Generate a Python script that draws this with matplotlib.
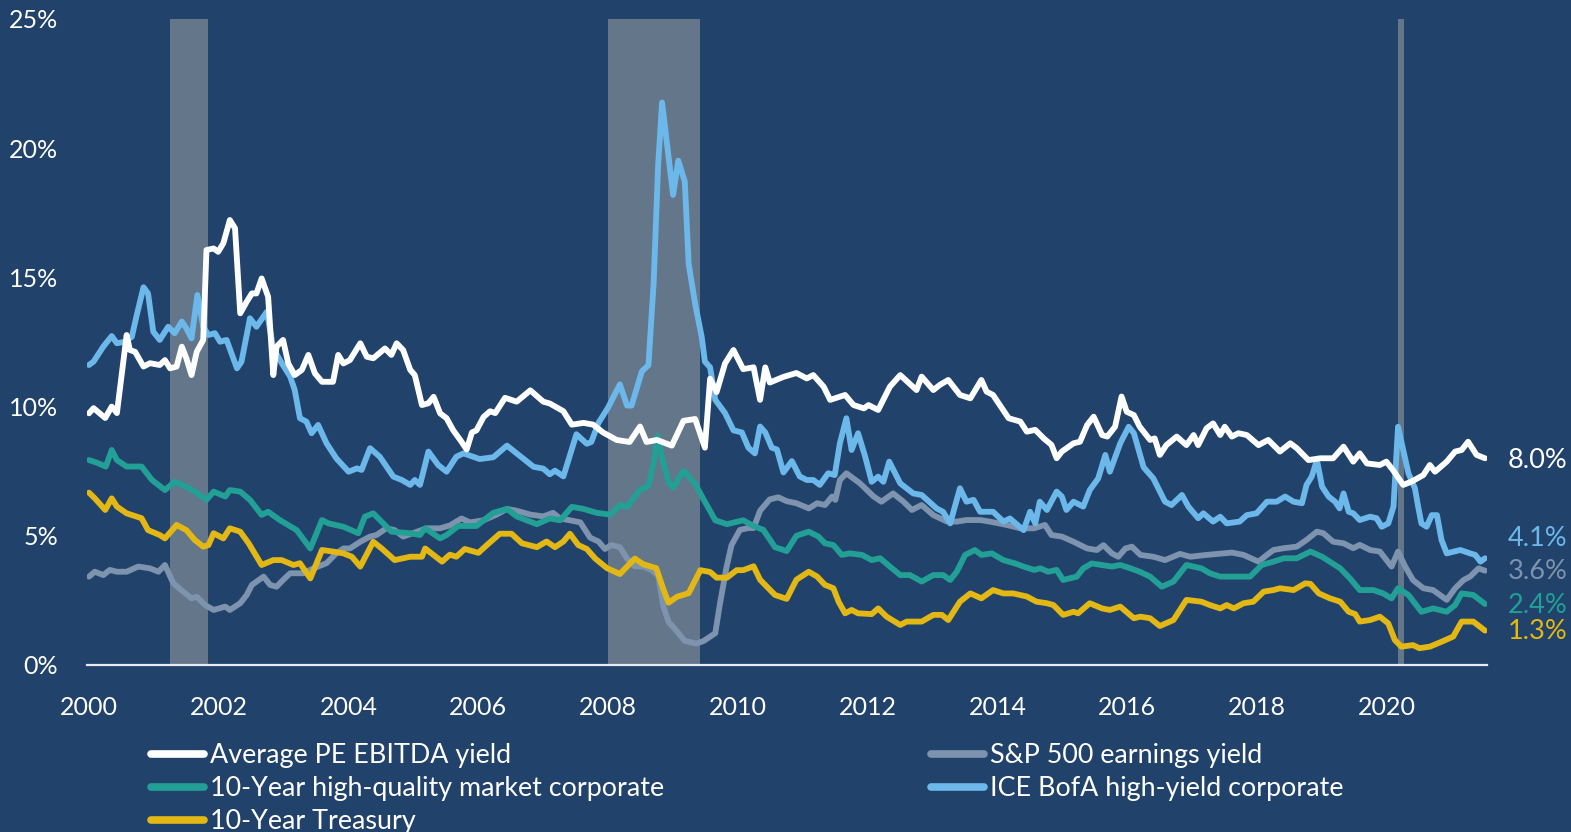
import matplotlib
matplotlib.use("Agg")
import matplotlib.pyplot as plt
from matplotlib.lines import Line2D

plt.rcParams['font.family'] = ['Lato', 'DejaVu Sans']

# ---------------- data ----------------
pe_x = [2000.0, 2000.07, 2000.25, 2000.35, 2000.43, 2000.58, 2000.63, 2000.71, 2000.84, 2000.94,
        2001.09, 2001.17, 2001.25, 2001.35, 2001.43, 2001.5, 2001.58, 2001.66, 2001.76, 2001.81,
        2001.92, 2001.99, 2002.07, 2002.17, 2002.25, 2002.33, 2002.43, 2002.51, 2002.58, 2002.66,
        2002.76, 2002.84, 2002.89, 2002.99, 2003.07, 2003.17, 2003.28, 2003.38, 2003.48, 2003.59,
        2003.76, 2003.84, 2003.92, 2004.02, 2004.18, 2004.28, 2004.38, 2004.56, 2004.66, 2004.74,
        2004.84, 2004.95, 2005.02, 2005.13, 2005.23, 2005.31, 2005.41, 2005.51, 2005.61, 2005.72,
        2005.82, 2005.9, 2005.97, 2006.08, 2006.18, 2006.26, 2006.41, 2006.59, 2006.8, 2007.0,
        2007.1, 2007.31, 2007.44, 2007.62, 2007.77, 2007.92, 2008.13, 2008.33, 2008.49, 2008.59,
        2008.75, 2008.98, 2009.16, 2009.34, 2009.49, 2009.57, 2009.67, 2009.8, 2009.93, 2010.08,
        2010.24, 2010.34, 2010.42, 2010.49, 2010.7, 2010.9, 2011.06, 2011.16, 2011.32, 2011.42,
        2011.65, 2011.78, 2011.94, 2012.01, 2012.16, 2012.34, 2012.5, 2012.75, 2012.83, 2013.01,
        2013.11, 2013.24, 2013.42, 2013.58, 2013.75, 2013.83, 2013.93, 2014.17, 2014.35, 2014.45,
        2014.58, 2014.71, 2014.83, 2014.91, 2014.99, 2015.17, 2015.27, 2015.38, 2015.48, 2015.61,
        2015.69, 2015.81, 2015.91, 2015.99, 2016.1, 2016.19, 2016.35, 2016.42, 2016.5, 2016.6,
        2016.76, 2016.91, 2017.02, 2017.09, 2017.22, 2017.32, 2017.43, 2017.5, 2017.61, 2017.71,
        2017.84, 2018.02, 2018.17, 2018.35, 2018.51, 2018.61, 2018.79, 2018.97, 2019.17, 2019.33,
        2019.48, 2019.58, 2019.69, 2019.89, 2019.99, 2020.09, 2020.25, 2020.38, 2020.56, 2020.66,
        2020.74, 2020.92, 2021.05, 2021.15, 2021.25, 2021.38, 2021.51]
pe_y = [9.74, 9.94, 9.56, 10.0, 9.75, 12.77, 12.19, 12.12, 11.55, 11.68,
        11.61, 11.8, 11.48, 11.55, 12.32, 11.87, 11.22, 12.12, 12.58, 16.06,
        16.12, 15.99, 16.32, 17.22, 16.9, 13.61, 14.06, 14.38, 14.38, 14.96,
        14.25, 11.22, 12.32, 12.58, 11.67, 11.22, 11.42, 12.0, 11.29, 10.96,
        10.96, 12.0, 11.67, 11.8, 12.45, 11.93, 11.87, 12.25, 12.0, 12.45,
        12.19, 11.42, 11.22, 10.06, 10.13, 10.38, 9.74, 9.55, 9.09, 8.71,
        8.34, 9.0, 9.08, 9.6, 9.82, 9.75, 10.34, 10.19, 10.63, 10.19,
        10.12, 9.82, 9.3, 9.37, 9.3, 9.0, 8.71, 8.63, 9.23, 8.63,
        8.71, 8.49, 9.45, 9.52, 8.41, 11.08, 10.56, 11.67, 12.19, 11.45,
        11.52, 10.26, 11.52, 10.93, 11.15, 11.3, 11.09, 11.22, 10.77, 10.26,
        10.45, 10.06, 9.93, 10.06, 9.87, 10.77, 11.22, 10.64, 11.16, 10.64,
        10.84, 11.03, 10.45, 10.32, 11.03, 10.58, 10.45, 9.55, 9.42, 9.03,
        9.1, 8.77, 8.52, 8.0, 8.26, 8.58, 8.64, 9.29, 9.61, 8.9,
        8.84, 9.22, 10.39, 9.8, 9.67, 9.22, 8.71, 8.77, 8.13, 8.51,
        8.84, 8.51, 8.9, 8.51, 9.16, 9.35, 8.9, 9.22, 8.84, 8.97,
        8.9, 8.51, 8.71, 8.26, 8.58, 8.39, 7.93, 8.0, 8.0, 8.45,
        7.87, 8.19, 7.8, 7.74, 7.87, 7.55, 6.97, 7.1, 7.35, 7.74,
        7.48, 7.87, 8.26, 8.32, 8.64, 8.13, 8.0]

sp_x = [2000.0, 2000.09, 2000.22, 2000.32, 2000.43, 2000.58, 2000.76, 2000.94, 2001.07, 2001.17,
        2001.3, 2001.45, 2001.58, 2001.66, 2001.79, 2001.92, 2002.1, 2002.17, 2002.33, 2002.43,
        2002.51, 2002.69, 2002.79, 2002.89, 2002.99, 2003.1, 2003.3, 2003.46, 2003.66, 2003.81,
        2003.92, 2004.02, 2004.18, 2004.33, 2004.43, 2004.58, 2004.71, 2004.84, 2004.99, 2005.2,
        2005.41, 2005.56, 2005.74, 2005.87, 2006.08, 2006.28, 2006.44, 2006.59, 2006.8, 2007.0,
        2007.15, 2007.26, 2007.41, 2007.57, 2007.72, 2007.85, 2007.95, 2008.05, 2008.18, 2008.29,
        2008.41, 2008.54, 2008.67, 2008.77, 2008.85, 2008.93, 2009.06, 2009.18, 2009.36, 2009.47,
        2009.65, 2009.72, 2009.82, 2009.9, 2010.03, 2010.16, 2010.24, 2010.34, 2010.49, 2010.62,
        2010.75, 2010.9, 2011.09, 2011.22, 2011.34, 2011.45, 2011.5, 2011.57, 2011.67, 2011.88,
        2012.09, 2012.21, 2012.39, 2012.55, 2012.68, 2012.83, 2013.01, 2013.22, 2013.37, 2013.52,
        2013.73, 2013.88, 2014.14, 2014.35, 2014.56, 2014.73, 2014.83, 2014.99, 2015.17, 2015.38,
        2015.53, 2015.63, 2015.76, 2015.86, 2015.97, 2016.07, 2016.2, 2016.4, 2016.58, 2016.81,
        2016.97, 2017.22, 2017.48, 2017.61, 2017.79, 2018.02, 2018.15, 2018.25, 2018.41, 2018.61,
        2018.76, 2018.92, 2019.02, 2019.17, 2019.33, 2019.48, 2019.58, 2019.74, 2019.89, 2020.07,
        2020.17, 2020.28, 2020.4, 2020.56, 2020.71, 2020.92, 2021.05, 2021.18, 2021.28, 2021.41,
        2021.51]
sp_y = [3.42, 3.61, 3.48, 3.68, 3.61, 3.61, 3.81, 3.74, 3.61, 3.87,
        3.16, 2.84, 2.58, 2.64, 2.32, 2.13, 2.26, 2.13, 2.39, 2.71,
        3.1, 3.42, 3.1, 3.03, 3.29, 3.55, 3.55, 3.74, 3.94, 4.32,
        4.51, 4.51, 4.77, 4.97, 5.03, 5.29, 5.22, 4.97, 5.1, 5.29,
        5.29, 5.4, 5.67, 5.52, 5.6, 5.82, 6.04, 5.97, 5.82, 5.75,
        5.89, 5.67, 5.6, 5.52, 4.93, 4.78, 4.49, 4.64, 4.56, 4.12,
        3.82, 3.82, 3.67, 3.45, 2.27, 1.67, 1.3, 0.93, 0.83, 0.93,
        1.23, 2.34, 3.75, 4.64, 5.23, 5.3, 5.3, 5.97, 6.41, 6.49,
        6.34, 6.26, 6.06, 6.26, 6.19, 6.52, 6.39, 7.16, 7.42, 7.03,
        6.52, 6.32, 6.64, 6.32, 6.0, 6.19, 5.8, 5.55, 5.55, 5.61,
        5.61, 5.55, 5.42, 5.29, 5.29, 5.42, 5.03, 4.97, 4.77, 4.51,
        4.45, 4.64, 4.32, 4.19, 4.51, 4.58, 4.26, 4.19, 4.06, 4.3,
        4.19, 4.26, 4.32, 4.35, 4.26, 4.0, 4.26, 4.45, 4.52, 4.58,
        4.84, 5.16, 5.1, 4.77, 4.71, 4.52, 4.65, 4.45, 4.39, 3.81,
        4.39, 3.81, 3.29, 2.97, 2.9, 2.52, 2.97, 3.29, 3.42, 3.74,
        3.65]

hqm_x = [2000.0, 2000.12, 2000.26, 2000.35, 2000.43, 2000.58, 2000.81, 2000.97, 2001.17, 2001.32,
         2001.5, 2001.63, 2001.81, 2001.92, 2002.1, 2002.17, 2002.33, 2002.48, 2002.66, 2002.76,
         2002.94, 2003.2, 2003.41, 2003.59, 2003.69, 2003.92, 2004.15, 2004.25, 2004.38, 2004.66,
         2004.95, 2005.1, 2005.18, 2005.41, 2005.51, 2005.69, 2005.97, 2006.23, 2006.44, 2006.59,
         2006.9, 2007.1, 2007.26, 2007.44, 2007.62, 2007.82, 2008.03, 2008.18, 2008.29, 2008.49,
         2008.62, 2008.7, 2008.76, 2008.85, 2008.93, 2009.0, 2009.16, 2009.34, 2009.47, 2009.65,
         2009.83, 2010.08, 2010.24, 2010.39, 2010.57, 2010.75, 2010.9, 2011.09, 2011.24, 2011.34,
         2011.47, 2011.6, 2011.72, 2011.91, 2012.06, 2012.19, 2012.34, 2012.5, 2012.65, 2012.83,
         2013.01, 2013.16, 2013.27, 2013.37, 2013.5, 2013.65, 2013.75, 2013.91, 2014.09, 2014.27,
         2014.4, 2014.56, 2014.66, 2014.78, 2014.91, 2015.01, 2015.22, 2015.32, 2015.45, 2015.61,
         2015.76, 2015.89, 2016.05, 2016.19, 2016.35, 2016.53, 2016.71, 2016.91, 2017.14, 2017.27,
         2017.43, 2017.64, 2017.89, 2018.07, 2018.25, 2018.41, 2018.61, 2018.82, 2019.0, 2019.28,
         2019.43, 2019.58, 2019.79, 2019.94, 2020.07, 2020.17, 2020.33, 2020.53, 2020.71, 2020.92,
         2021.05, 2021.15, 2021.33, 2021.51]
hqm_y = [7.93, 7.83, 7.68, 8.32, 7.93, 7.68, 7.68, 7.16, 6.77, 7.09,
         6.9, 6.71, 6.39, 6.71, 6.52, 6.77, 6.71, 6.39, 5.81, 5.93,
         5.61, 5.22, 4.51, 5.61, 5.48, 5.35, 5.1, 5.74, 5.87, 5.16,
         5.1, 5.03, 5.29, 4.9, 5.03, 5.38, 5.38, 5.89, 6.04, 5.75,
         5.45, 5.67, 5.6, 6.12, 6.04, 5.89, 5.82, 6.19, 6.12, 6.78,
         6.93, 7.82, 8.86, 7.82, 7.08, 6.86, 7.52, 7.01, 6.41, 5.6,
         5.45, 5.6, 5.38, 5.23, 4.56, 4.41, 5.0, 5.16, 4.97, 4.71,
         4.64, 4.26, 4.32, 4.26, 4.06, 4.13, 3.81, 3.48, 3.48, 3.23,
         3.48, 3.48, 3.29, 3.61, 4.26, 4.45, 4.26, 4.32, 4.06, 3.93,
         3.81, 3.68, 3.74, 3.61, 3.68, 3.29, 3.42, 3.74, 3.93, 3.87,
         3.81, 3.87, 3.74, 3.61, 3.42, 3.03, 3.23, 3.87, 3.74, 3.55,
         3.42, 3.42, 3.42, 3.87, 4.0, 4.13, 4.13, 4.39, 4.19, 3.74,
         3.35, 2.9, 2.9, 2.77, 2.58, 2.97, 2.71, 2.06, 2.19, 2.06,
         2.32, 2.77, 2.71, 2.36]

hy_x = [2000.0, 2000.07, 2000.22, 2000.35, 2000.43, 2000.55, 2000.66, 2000.73, 2000.84, 2000.91,
        2000.99, 2001.09, 2001.22, 2001.32, 2001.43, 2001.5, 2001.58, 2001.67, 2001.76, 2001.84,
        2001.94, 2002.02, 2002.12, 2002.28, 2002.35, 2002.48, 2002.58, 2002.74, 2002.84, 2002.97,
        2003.1, 2003.17, 2003.25, 2003.35, 2003.43, 2003.53, 2003.66, 2003.81, 2004.0, 2004.13,
        2004.2, 2004.33, 2004.48, 2004.69, 2004.82, 2004.95, 2005.02, 2005.1, 2005.23, 2005.38,
        2005.51, 2005.66, 2005.77, 2006.02, 2006.23, 2006.44, 2006.59, 2006.85, 2007.0, 2007.1,
        2007.18, 2007.31, 2007.41, 2007.51, 2007.67, 2007.74, 2007.85, 2008.0, 2008.18, 2008.29,
        2008.36, 2008.52, 2008.62, 2008.7, 2008.77, 2008.83, 2008.93, 2009.0, 2009.08, 2009.18,
        2009.24, 2009.34, 2009.44, 2009.49, 2009.57, 2009.65, 2009.8, 2009.93, 2010.06, 2010.16,
        2010.26, 2010.34, 2010.42, 2010.52, 2010.6, 2010.7, 2010.83, 2010.95, 2011.06, 2011.16,
        2011.26, 2011.39, 2011.49, 2011.57, 2011.67, 2011.75, 2011.85, 2011.96, 2012.06, 2012.16,
        2012.24, 2012.33, 2012.5, 2012.7, 2012.83, 2013.06, 2013.16, 2013.27, 2013.42, 2013.52,
        2013.63, 2013.73, 2013.93, 2014.09, 2014.19, 2014.4, 2014.5, 2014.58, 2014.65, 2014.76,
        2014.91, 2014.99, 2015.06, 2015.17, 2015.32, 2015.42, 2015.55, 2015.66, 2015.73, 2015.89,
        2016.02, 2016.1, 2016.25, 2016.4, 2016.58, 2016.68, 2016.84, 2016.94, 2017.09, 2017.17,
        2017.32, 2017.43, 2017.53, 2017.73, 2017.84, 2017.99, 2018.15, 2018.3, 2018.43, 2018.56,
        2018.69, 2018.76, 2018.84, 2018.92, 2019.0, 2019.1, 2019.2, 2019.27, 2019.33, 2019.41,
        2019.48, 2019.58, 2019.74, 2019.84, 2019.92, 2020.02, 2020.1, 2020.17, 2020.25, 2020.33,
        2020.43, 2020.48, 2020.53, 2020.61, 2020.69, 2020.77, 2020.84, 2020.92, 2021.13, 2021.28,
        2021.36, 2021.44, 2021.51]
hy_y = [11.61, 11.74, 12.32, 12.73, 12.45, 12.51, 12.7, 13.48, 14.62, 14.38,
        12.9, 12.58, 13.09, 12.84, 13.29, 13.03, 12.64, 14.32, 13.09, 12.77,
        12.84, 12.51, 12.58, 11.48, 11.74, 13.42, 13.09, 13.67, 12.25, 11.68,
        11.16, 10.64, 9.55, 9.42, 8.97, 9.29, 8.58, 8.0, 7.48, 7.61,
        7.55, 8.39, 8.06, 7.29, 7.16, 6.97, 7.16, 6.97, 8.26, 7.74,
        7.48, 8.06, 8.19, 7.97, 8.04, 8.49, 8.19, 7.67, 7.6, 7.38,
        7.52, 7.3, 8.12, 8.93, 8.56, 8.63, 9.37, 9.97, 10.86, 10.04,
        10.04, 11.37, 11.6, 14.78, 19.37, 21.77, 19.67, 18.19, 19.52, 18.71,
        15.52, 13.97, 12.71, 11.74, 11.52, 10.26, 9.75, 9.08, 9.0, 8.41,
        8.19, 9.23, 9.0, 8.41, 8.34, 7.45, 7.89, 7.3, 7.16, 7.16,
        6.97, 7.42, 7.35, 8.58, 9.55, 8.32, 8.97, 8.06, 7.09, 7.29,
        7.09, 7.87, 7.03, 6.64, 6.58, 6.06, 5.93, 5.48, 6.84, 6.32,
        6.39, 5.93, 5.93, 5.55, 5.67, 5.22, 5.93, 5.48, 6.32, 6.0,
        6.71, 6.52, 6.0, 6.32, 6.13, 6.77, 7.22, 8.13, 7.48, 8.58,
        9.22, 8.97, 7.65, 7.22, 6.32, 6.19, 6.58, 6.13, 5.68, 5.87,
        5.55, 5.74, 5.48, 5.55, 5.8, 5.87, 6.32, 6.32, 6.52, 6.32,
        6.26, 6.97, 7.29, 7.93, 6.9, 6.52, 6.32, 6.06, 6.64, 5.93,
        5.87, 5.61, 5.74, 5.68, 5.35, 5.48, 6.13, 9.22, 8.32, 7.42,
        6.84, 6.13, 5.48, 5.35, 5.8, 5.8, 4.84, 4.32, 4.45, 4.32,
        4.26, 4.0, 4.13]

ust_x = [2000.0, 2000.09, 2000.25, 2000.35, 2000.43, 2000.58, 2000.81, 2000.91, 2001.09, 2001.17,
         2001.35, 2001.5, 2001.63, 2001.76, 2001.84, 2001.92, 2002.07, 2002.17, 2002.33, 2002.46,
         2002.66, 2002.84, 2002.97, 2003.15, 2003.25, 2003.41, 2003.59, 2003.76, 2003.92, 2004.05,
         2004.18, 2004.38, 2004.51, 2004.71, 2004.95, 2005.13, 2005.18, 2005.44, 2005.56, 2005.66,
         2005.79, 2006.0, 2006.13, 2006.33, 2006.51, 2006.67, 2006.9, 2007.05, 2007.18, 2007.31,
         2007.41, 2007.54, 2007.67, 2007.8, 2007.98, 2008.18, 2008.41, 2008.54, 2008.74, 2008.85,
         2008.93, 2009.06, 2009.24, 2009.42, 2009.57, 2009.67, 2009.83, 2009.98, 2010.08, 2010.24,
         2010.34, 2010.57, 2010.75, 2010.9, 2011.09, 2011.22, 2011.34, 2011.47, 2011.55, 2011.65,
         2011.75, 2011.85, 2012.06, 2012.16, 2012.29, 2012.5, 2012.6, 2012.83, 2013.01, 2013.14,
         2013.24, 2013.42, 2013.58, 2013.75, 2013.93, 2014.09, 2014.24, 2014.45, 2014.6, 2014.76,
         2014.86, 2015.01, 2015.17, 2015.24, 2015.42, 2015.61, 2015.73, 2015.89, 2016.1, 2016.2,
         2016.35, 2016.5, 2016.71, 2016.91, 2017.14, 2017.27, 2017.43, 2017.53, 2017.64, 2017.79,
         2017.94, 2018.1, 2018.25, 2018.35, 2018.56, 2018.74, 2018.82, 2018.95, 2019.12, 2019.28,
         2019.41, 2019.51, 2019.58, 2019.74, 2019.89, 2020.02, 2020.12, 2020.22, 2020.4, 2020.5,
         2020.66, 2020.84, 2021.02, 2021.15, 2021.33, 2021.51]
ust_y = [6.67, 6.45, 6.0, 6.45, 6.13, 5.87, 5.68, 5.22, 5.03, 4.9,
         5.42, 5.22, 4.84, 4.58, 4.64, 5.1, 4.9, 5.29, 5.16, 4.71,
         3.87, 4.06, 4.06, 3.87, 3.94, 3.35, 4.45, 4.39, 4.32, 4.19,
         3.81, 4.77, 4.51, 4.06, 4.19, 4.19, 4.51, 4.0, 4.27, 4.19,
         4.49, 4.34, 4.64, 5.08, 5.08, 4.71, 4.56, 4.78, 4.56, 4.78,
         5.08, 4.64, 4.49, 4.12, 3.75, 3.52, 4.12, 3.9, 3.75, 2.93,
         2.41, 2.64, 2.78, 3.67, 3.6, 3.38, 3.38, 3.67, 3.67, 3.82,
         3.3, 2.71, 2.56, 3.3, 3.61, 3.42, 3.1, 2.97, 2.45, 2.0,
         2.13, 2.0, 1.97, 2.19, 1.87, 1.55, 1.68, 1.68, 1.94, 1.94,
         1.74, 2.45, 2.77, 2.58, 2.9, 2.77, 2.77, 2.65, 2.45, 2.39,
         2.32, 1.94, 2.06, 2.0, 2.39, 2.19, 2.13, 2.26, 1.81, 1.87,
         1.81, 1.51, 1.74, 2.52, 2.45, 2.32, 2.19, 2.32, 2.19, 2.39,
         2.45, 2.84, 2.9, 2.97, 2.9, 3.16, 3.14, 2.77, 2.58, 2.45,
         2.06, 1.97, 1.68, 1.74, 1.87, 1.61, 0.97, 0.71, 0.77, 0.65,
         0.71, 0.9, 1.1, 1.68, 1.68, 1.33]

series_names = ["Average PE EBITDA yield", "10-Year high-quality market corporate",
                "10-Year Treasury", "S&P 500 earnings yield", "ICE BofA high-yield corporate"]
end_labels = ["8.0%", "2.4%", "1.3%", "3.6%", "4.1%"]
end_label_y = [7.93, 2.32, 1.28, 3.6, 4.91]

recessions = [(2001.25, 2001.84), (2008.0, 2009.42), (2020.17, 2020.26)]
year_ticks = list(range(2000, 2021, 2))
pct_ticks = [0, 5, 10, 15, 20, 25]

# ---------------- styling ----------------
BG = "#21426B"
colors = ["#FFFFFF", "#22A096", "#E3B814", "#7D93AE", "#6CB8EB"]
W, H = 1571, 832
fig = plt.figure(figsize=(W / 100, H / 100), dpi=100, facecolor=BG)
ax = fig.add_axes([87 / W, 1 - 665 / H, 1400 / W, 646 / H], facecolor=BG)

for a, b in recessions:
    ax.axvspan(a, b, color="#647689", lw=0, zorder=1)

xs = [pe_x, hqm_x, ust_x, sp_x, hy_x]
ys = [pe_y, hqm_y, ust_y, sp_y, hy_y]
order_z = [6, 4, 3, 2, 5]
for x, y, c, n, z in zip(xs, ys, colors, series_names, order_z):
    ax.plot(x, y, color=c, lw=4.2, label=n, zorder=z, solid_joinstyle="round",
            solid_capstyle="round")

ax.set_xlim(2000 - 2 / 64.9, 2000 - 2 / 64.9 + 1400 / 64.9)
ax.set_ylim(0, 25)
ax.set_xticks(year_ticks)
ax.set_xticklabels([str(t) for t in year_ticks])
ax.set_yticks(pct_ticks)
ax.set_yticklabels([f"{t}%" for t in pct_ticks])
ax.tick_params(axis="both", length=0, colors="white", labelsize=18)
ax.tick_params(axis="y", pad=21)
ax.tick_params(axis="x", pad=22)
for s in ["top", "right", "left"]:
    ax.spines[s].set_visible(False)
ax.spines["bottom"].set_color("#E8ECF2")
ax.spines["bottom"].set_linewidth(1.6)
ax.spines["bottom"].set_zorder(7)

blend = matplotlib.transforms.blended_transform_factory(fig.transFigure, ax.transData)
for lab, yy, c in zip(end_labels, end_label_y, colors):
    ax.text(1508 / W, yy, lab, color=c, fontsize=19.5, va="center", ha="left",
            transform=blend, clip_on=False)

def mk_handles(idx):
    return [Line2D([0], [0], color=colors[i], lw=5.5, solid_capstyle="round") for i in idx]

leg_kw = dict(loc="upper left", frameon=False, fontsize=19.4, labelcolor="white",
              handlelength=1.98, handletextpad=0.2, labelspacing=0.3,
              borderpad=0, borderaxespad=0)
fig.legend(mk_handles([0, 1, 2]), series_names[:3],
           bbox_to_anchor=(151 / W, 1 - 743 / H), **leg_kw)
fig.legend(mk_handles([3, 4]), series_names[3:],
           bbox_to_anchor=(931 / W, 1 - 743 / H), **leg_kw)

fig.savefig("out.png", dpi=100, facecolor=BG)
